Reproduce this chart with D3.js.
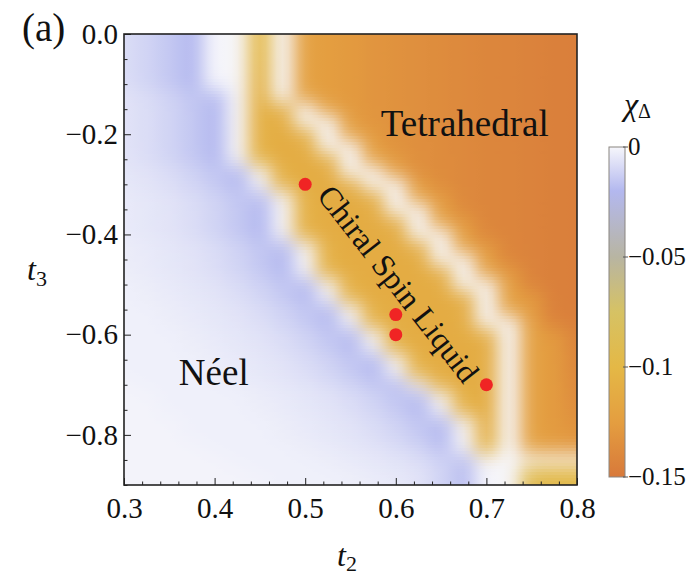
<!DOCTYPE html>
<html><head><meta charset="utf-8">
<script src="https://cdn.jsdelivr.net/npm/d3@7"></script>
<style>
body{margin:0;background:#fff;}
svg{display:block;}
text{font-family:"Liberation Serif","Times New Roman",serif;fill:#111;}
</style>
</head><body>
<svg id="chart" width="698" height="577"></svg>
<script>
// ---- data ----
const t2Grid = [0.3,0.325,0.35,0.375,0.4,0.425,0.45,0.475,0.5,0.525,0.55,0.575,0.6,0.625,0.65,0.675,0.7,0.725,0.75,0.775,0.8];
const t3Grid = [0,-0.025,-0.05,-0.075,-0.1,-0.125,-0.15,-0.175,-0.2,-0.225,-0.25,-0.275,-0.3,-0.325,-0.35,-0.375,-0.4,-0.425,-0.45,-0.475,-0.5,-0.525,-0.55,-0.575,-0.6,-0.625,-0.65,-0.675,-0.7,-0.725,-0.75,-0.775,-0.8,-0.825,-0.85,-0.875,-0.9];
// chi_Delta in units of 1e-3, one row per t3 value, one column per t2 value
const chiMilli = [
[-8,-11,-15,-20,0,0,-100,0,-122,-125,-128,-131,-133,-135,-137,-139,-141,-142,-143,-145,-146],
[-8,-11,-15,-20,0,0,-100,0,-122,-125,-128,-131,-133,-135,-137,-139,-141,-142,-143,-145,-146],
[-8,-11,-15,-20,0,0,-102,0,-122,-125,-128,-131,-133,-135,-137,-139,-141,-142,-143,-145,-146],
[-8,-11,-15,-20,0,0,-104,0,-122,-125,-128,-131,-133,-135,-137,-139,-141,-142,-143,-145,-146],
[-8,-11,-15,-20,0,0,-106,0,-122,-125,-128,-131,-133,-135,-137,-139,-141,-142,-143,-145,-146],
[-6,-8,-11,-15,-20,0,-108,0,-122,-125,-128,-131,-133,-135,-137,-139,-141,-142,-143,-145,-146],
[-6,-8,-11,-15,-20,0,-108,-110,0,-122,-127,-131,-133,-135,-137,-139,-141,-142,-143,-145,-146],
[-6,-8,-11,-15,-20,0,-108,-110,0,0,-124,-131,-133,-135,-137,-139,-141,-142,-143,-145,-146],
[-6,-8,-11,-15,-20,0,-108,-112,-110,0,-122,-127,-133,-135,-137,-139,-141,-142,-143,-145,-146],
[-6,-8,-11,-15,-20,0,-108,-112,-110,0,0,-124,-133,-135,-137,-139,-141,-142,-143,-145,-146],
[-6,-8,-11,-15,-20,0,-104,-112,-112,-110,0,-122,-127,-135,-137,-139,-141,-142,-143,-145,-146],
[-5,-6,-8,-11,-15,-20,0,-108,-112,-112,0,0,-124,-135,-137,-139,-141,-142,-143,-145,-146],
[-5,-6,-8,-11,-15,-20,0,-108,-112,-112,-112,0,0,-124,-137,-139,-141,-142,-143,-145,-146],
[-4,-5,-6,-8,-11,-15,-18,0,-108,-112,-112,-112,0,-122,-127,-139,-141,-142,-143,-145,-146],
[-4,-5,-6,-8,-11,-15,-20,0,-108,-112,-112,-112,0,0,-124,-139,-141,-142,-143,-145,-146],
[-4,-5,-6,-8,-11,-15,-20,0,-108,-112,-112,-112,-112,0,-122,-127,-141,-142,-143,-145,-146],
[-4,-5,-6,-8,-11,-15,-20,0,-108,-112,-112,-112,-112,0,0,-124,-141,-142,-143,-145,-146],
[-3,-4,-5,-6,-8,-11,-15,-20,0,-108,-112,-112,-112,-112,0,-122,-127,-142,-143,-145,-146],
[-3,-4,-5,-6,-8,-11,-15,-20,0,-108,-112,-112,-112,-112,0,0,-124,-142,-143,-145,-146],
[-3,-4,-5,-6,-8,-11,-15,-20,0,-108,-112,-112,-112,-112,-112,0,-122,-127,-143,-145,-146],
[-2,-3,-4,-5,-6,-8,-11,-15,-20,0,-108,-112,-112,-112,-112,0,0,-124,-143,-145,-146],
[-2,-3,-4,-5,-6,-8,-11,-15,-20,0,-108,-112,-112,-112,-112,-112,0,-122,-127,-145,-146],
[-2,-2,-3,-4,-5,-6,-8,-11,-15,-20,0,-108,-112,-112,-112,-112,0,-122,-127,-145,-146],
[-2,-2,-3,-4,-5,-6,-8,-11,-15,-20,0,-108,-112,-112,-112,-112,0,0,-124,-144,-145],
[-2,-2,-2,-3,-4,-5,-6,-8,-11,-15,-20,0,-108,-112,-112,-112,-112,0,-122,-127,-143],
[-2,-2,-2,-3,-4,-5,-6,-8,-11,-15,-20,0,-108,-112,-112,-112,-112,0,-122,-127,-142],
[-2,-2,-2,-2,-3,-4,-5,-6,-8,-11,-15,-20,0,-108,-112,-112,-112,0,-122,-127,-141],
[-2,-2,-2,-2,-3,-4,-5,-6,-8,-11,-15,-20,0,-108,-112,-112,-112,0,-122,-127,-140],
[-1,-2,-2,-2,-2,-3,-4,-5,-6,-8,-11,-15,-20,0,-108,-112,-112,0,-122,-127,-139],
[-1,-1,-2,-2,-2,-2,-3,-4,-5,-6,-8,-11,-15,-20,0,-108,-112,0,-122,-127,-138],
[-1,-1,-2,-2,-2,-2,-3,-4,-5,-6,-8,-11,-15,-20,0,-108,-112,0,-122,-127,-136],
[-1,-1,-1,-2,-2,-2,-2,-3,-4,-5,-6,-8,-11,-15,-20,0,-110,0,-122,-127,-133],
[-1,-1,-1,-2,-2,-2,-2,-3,-4,-5,-6,-8,-11,-15,-20,0,-110,0,-122,-127,-132],
[-1,-1,-1,-1,-2,-2,-2,-2,-3,-4,-5,-6,-8,-11,-18,0,-104,0,-122,-125,-128],
[-1,-1,-1,-1,-1,-2,-2,-2,-2,-3,-4,-5,-6,-8,-11,-18,0,0,0,0,0],
[-1,-1,-1,-1,-1,-1,-2,-2,-2,-2,-3,-4,-5,-6,-11,-18,0,0,-95,-100,-100],
[-1,-1,-1,-1,-1,-1,-1,-2,-2,-2,-2,-3,-4,-6,-11,-18,0,0,-92,-95,-95]
];
const pointT2 = [0.5, 0.6, 0.6, 0.7];
const pointT3 = [-0.3, -0.56, -0.6, -0.7];
const xTickValues = [0.3,0.4,0.5,0.6,0.7,0.8];
const yTickValues = [0,-0.2,-0.4,-0.6,-0.8];
const cbTickValues = [0,-0.05,-0.1,-0.15];
const colorStops = [0,-0.02,-0.05,-0.075,-0.1,-0.125,-0.15];
const colorRange = ["#f6f6fb","#b3b8ef","#b8b5a2","#d6c264","#e4b846","#e49e40","#d8793a"];
const phaseLabels = [
  {text:"Tetrahedral", t2:0.5835, t3:-0.204},
  {text:"Néel", t2:0.3605, t3:-0.7}
];

// ---- drawing ----
const svg = d3.select("#chart");
const L=124, R=577, T=34, B=485;
const x = d3.scaleLinear().domain([0.3,0.8]).range([L,R]);
const y = d3.scaleLinear().domain([0,-0.9]).range([T,B]);
const color = d3.scaleLinear().domain(colorStops).range(colorRange).interpolate(d3.interpolateRgb).clamp(true);

const defs = svg.append("defs");
defs.append("clipPath").attr("id","plotclip").append("rect")
  .attr("x",L).attr("y",T).attr("width",R-L).attr("height",B-T);

// heat map shading: thin horizontal strips with gradients; each cell colour is
// spread smoothly over its neighbours (as a density plot renders its mesh)
const cellRGB = chiMilli.map(row=>row.map(v=>d3.rgb(color(v/1000))));
const rowStep = t3Grid[0]-t3Grid[1], colStep = t2Grid[1]-t2Grid[0];
const sigmaY = 0.8*rowStep, sigmaX = 0.5*colStep;
const stripPx = 3, subPerCol = 4;
const heat = svg.append("g").attr("clip-path","url(#plotclip)");
const t2Min = t2Grid[0], t2Max = t2Grid[t2Grid.length-1];
const subT2 = d3.range(0, (t2Grid.length-1)*subPerCol+1).map(s=>t2Min + s*colStep/subPerCol);
const hw = subT2.map(ts=>t2Grid.map(t=>Math.exp(-0.5*Math.pow((ts-t)/sigmaX,2))));
let k = 0;
for (let py = T; py < B; py += stripPx, k++) {
  const tc = y.invert(py + stripPx/2);
  const w = t3Grid.map(t=>Math.exp(-0.5*Math.pow((tc-t)/sigmaY,2)));
  const ws = d3.sum(w);
  const mix = t2Grid.map((t2,j)=>{
    let r=0,g=0,b=0;
    w.forEach((wi,i)=>{ if (wi>1e-4){ const c=cellRGB[i][j]; r+=wi*c.r; g+=wi*c.g; b+=wi*c.b; } });
    return [r/ws,g/ws,b/ws];
  });
  const gr = defs.append("linearGradient").attr("id","strip"+k).attr("gradientUnits","userSpaceOnUse")
    .attr("x1",x(t2Min)).attr("x2",x(t2Max)).attr("y1",0).attr("y2",0);
  subT2.forEach((ts,s)=>{
    let r=0,g=0,b=0,hs=0;
    hw[s].forEach((h,j)=>{ if (h>1e-4){ r+=h*mix[j][0]; g+=h*mix[j][1]; b+=h*mix[j][2]; hs+=h; } });
    gr.append("stop").attr("offset",((ts-t2Min)/(t2Max-t2Min)).toFixed(4))
      .attr("stop-color",d3.rgb(r/hs,g/hs,b/hs).formatHex());
  });
  heat.append("rect").attr("x",L).attr("y",py).attr("width",R-L).attr("height",stripPx+0.6)
    .attr("fill",`url(#strip${k})`);
}

// labels inside plot
svg.selectAll("text.phase").data(phaseLabels).join("text").attr("class","phase")
  .attr("x",d=>x(d.t2)).attr("y",d=>y(d.t3)).attr("font-size",37).text(d=>d.text);
const cslCx = x(0.6), cslCy = y(-0.52);
svg.append("text").attr("transform",`translate(${cslCx-6},${cslCy-4})`+" rotate(52)")
  .attr("text-anchor","middle").attr("font-size",32).text("Chiral Spin Liquid");

// points
svg.append("g").selectAll("circle").data(pointT2.map((t,i)=>({t2:t,t3:pointT3[i]}))).join("circle")
  .attr("cx",d=>x(d.t2)).attr("cy",d=>y(d.t3)).attr("r",6.5).attr("fill","#f02424");

// axes
const fmt = d3.format(".1f");
const ax = svg.append("g").attr("transform",`translate(0,${B})`)
  .call(d3.axisBottom(x).tickValues(xTickValues).tickSize(-7).tickPadding(12).tickFormat(fmt));
const axm = svg.append("g").attr("transform",`translate(0,${B})`)
  .call(d3.axisBottom(x).tickValues(d3.range(0.3,0.8001,0.02).filter(v=>Math.abs(v*10-Math.round(v*10))>1e-6)).tickSize(-3.5).tickFormat(""));
const ay = svg.append("g").attr("transform",`translate(${L},0)`)
  .call(d3.axisLeft(y).tickValues(yTickValues).tickSize(-7).tickPadding(6).tickFormat(fmt));
const aym = svg.append("g").attr("transform",`translate(${L},0)`)
  .call(d3.axisLeft(y).tickValues(d3.range(0,-0.9001,-0.05).filter(v=>Math.abs(v*5-Math.round(v*5))>1e-6)).tickSize(-3.5).tickFormat(""));
[ax,axm,ay,aym].forEach(g=>{
  g.select(".domain").remove();
  g.selectAll("line").attr("stroke","#222").attr("stroke-width",1);
  g.selectAll("text").attr("font-size",29).attr("fill","#111")
   .style("font-family",'"Liberation Serif","Times New Roman",serif');
});
svg.append("rect").attr("x",L).attr("y",T).attr("width",R-L).attr("height",B-T)
  .attr("fill","none").attr("stroke","#222").attr("stroke-width",1.6);

// axis titles
const t2t = svg.append("text").attr("x",337).attr("y",566).attr("font-size",32);
t2t.append("tspan").attr("font-style","italic").text("t");
t2t.append("tspan").attr("font-size",22).attr("dy",5).text("2");
const t3t = svg.append("text").attr("x",27).attr("y",280).attr("font-size",32);
t3t.append("tspan").attr("font-style","italic").text("t");
t3t.append("tspan").attr("font-size",22).attr("dy",6).text("3");
svg.append("text").attr("x",22).attr("y",41).attr("font-size",39).text("(a)");

// colorbar
const cbX=609, cbW=16;
const cbY = d3.scaleLinear().domain([0,-0.15]).range([147,477]);
const grad = defs.append("linearGradient").attr("id","cbgrad").attr("x1",0).attr("y1",0).attr("x2",0).attr("y2",1);
colorStops.forEach((v,i)=>grad.append("stop").attr("offset",(v/-0.15)).attr("stop-color",colorRange[i]));
svg.append("rect").attr("x",cbX).attr("y",cbY(0)).attr("width",cbW).attr("height",cbY(-0.15)-cbY(0))
  .attr("fill","url(#cbgrad)").attr("stroke","#8a8580").attr("stroke-width",1);
const cbfmt = d3.format("");
const cbt = svg.append("g").selectAll("g").data(cbTickValues).join("g")
  .attr("transform",d=>`translate(${cbX+cbW},${cbY(d)})`);
cbt.append("line").attr("x1",-2).attr("x2",3).attr("stroke","#555");
cbt.append("text").attr("x",3).attr("dy","0.33em").attr("font-size",25).text(d=>cbfmt(d));
const cbTitle = svg.append("text").attr("x",624).attr("y",115).attr("font-size",32);
cbTitle.append("tspan").attr("font-style","italic").text("χ");
cbTitle.append("tspan").attr("font-size",20).attr("dy",3).text("Δ");
</script>
</body></html>
